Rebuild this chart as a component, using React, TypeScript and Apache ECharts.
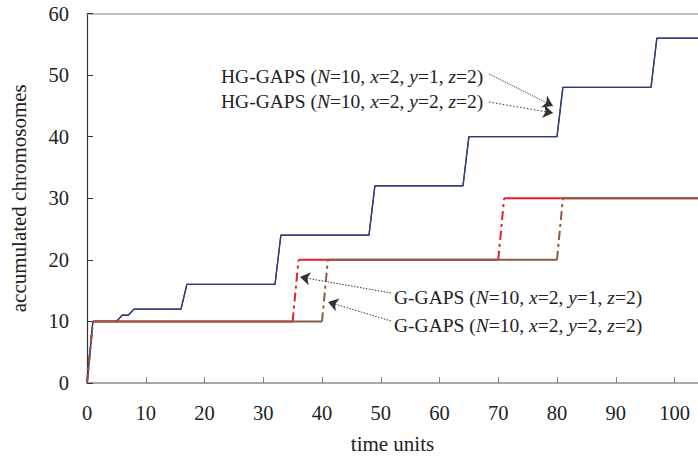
import React, { useEffect, useRef } from "react";
import * as echarts from "echarts";

// HG-GAPS (N=10, x=2, y=1/2, z=2) — both curves coincide
const hgTimes = [0, 1, 5, 6, 7, 8, 16, 17, 32, 33, 48, 49, 64, 65, 80, 81, 96, 97, 104];
const hgValues = [0, 10, 10, 11, 11, 12, 12, 16, 16, 24, 24, 32, 32, 40, 40, 48, 48, 56, 56];

// G-GAPS (N=10, x=2, y=1, z=2)
const g1Times = [0, 1, 35, 36, 70, 71, 104];
const g1Values = [0, 10, 10, 20, 20, 30, 30];

// G-GAPS (N=10, x=2, y=2, z=2)
const g2Times = [0, 1, 40, 41, 80, 81, 104];
const g2Values = [0, 10, 10, 20, 20, 30, 30];

const yTicks = [0, 10, 20, 30, 40, 50, 60];
const xTicks = [0, 10, 20, 30, 40, 50, 60, 70, 80, 90, 100];

const FONT = "'Liberation Serif', 'Times New Roman', serif";
const ANN = 19.5;

function pairs(t: number[], v: number[]) {
  return t.map((x, i) => [x, v[i]]);
}

// split a step curve into flat (solid) and rising (dash-dot) pieces
function split(t: number[], v: number[]) {
  const solid: any[] = [];
  const dashed: any[] = [];
  for (let i = 0; i < t.length - 1; i++) {
    const target = v[i] === v[i + 1] ? solid : dashed;
    if (target.length) target.push([(t[i] + t[i - 1 >= 0 ? i - 1 : i]) / 2, "-"]);
    target.push([t[i], v[i]], [t[i + 1], v[i + 1]]);
  }
  return { solid, dashed };
}

export default function App() {
  const ref = useRef<HTMLDivElement>(null);
  useEffect(() => {
    if (!ref.current) return;
    const chart = echarts.init(ref.current, null, { renderer: "svg" });
    const g1 = split(g1Times, g1Values);
    const g2 = split(g2Times, g2Values);
    const red = "#e3212b";
    const brown = "#8e5843";
    const navy = "#2f3b7a";
    const dash = [9, 4, 3, 4];
    const arrowLine = (a: number[], b: number[], type: any) => [
      { x: a[0], y: a[1], lineStyle: { type, color: "#333", width: 1 } },
      { x: b[0], y: b[1] },
    ];
    const rich = { i: { fontStyle: "italic", fontFamily: FONT, fontSize: ANN, fill: "#222" } };
    const label = (x: number, y: number, text: string) => ({
      type: "text",
      x,
      y,
      style: {
        text,
        fontFamily: FONT,
        fontSize: ANN,
        fill: "#222",
        verticalAlign: "middle",
        rich,
      },
      silent: true,
    });
    chart.setOption({
      animation: false,
      grid: { left: 85.5, top: 13.5, right: 0, bottom: 78, containLabel: false },
      xAxis: [
        {
          type: "value",
          min: 0,
          max: 104,
          interval: 10,
          name: "time units",
          nameLocation: "middle",
          nameGap: 50,
          nameTextStyle: { fontFamily: FONT, fontSize: 21, color: "#222" },
          axisLine: { show: true, lineStyle: { color: "#888", width: 1.5 } },
          axisTick: { show: true, inside: true, length: 6, lineStyle: { color: "#888" } },
          axisLabel: {
            fontFamily: FONT,
            fontSize: 20.5,
            color: "#222",
            margin: 19,
            showMaxLabel: false,
            formatter: (v: number) => (xTicks.includes(v) ? String(v) : ""),
          },
          splitLine: { show: false },
        },
        {
          type: "value",
          position: "top",
          min: 0,
          max: 104,
          axisLine: { show: true, onZero: false, lineStyle: { color: "#aaa", width: 1.5 } },
          axisTick: { show: false },
          axisLabel: { show: false },
          splitLine: { show: false },
        },
      ],
      yAxis: {
        type: "value",
        min: 0,
        max: 60,
        interval: 10,
        name: "accumulated chromosomes",
        nameLocation: "middle",
        nameGap: 58,
        nameTextStyle: { fontFamily: FONT, fontSize: 21, color: "#222" },
        axisLine: { show: true, lineStyle: { color: "#333", width: 1.2 } },
        axisTick: { show: true, inside: true, length: 6, lineStyle: { color: "#333" } },
        axisLabel: {
          fontFamily: FONT,
          fontSize: 20.5,
          color: "#222",
          margin: 18,
          formatter: (v: number) => (yTicks.includes(v) ? String(v) : ""),
        },
        splitLine: { show: false },
      },
      series: [
        {
          name: "HG-GAPS y=2",
          type: "line",
          data: pairs(hgTimes, hgValues),
          symbol: "none",
          lineStyle: { color: navy, width: 1.3 },
          markLine: {
            silent: true,
            symbol: ["none", "arrow"],
            symbolSize: 10,
            label: { show: false },
            data: [
              arrowLine([489, 74], [553, 106], "dotted"),
              arrowLine([489, 102], [553, 113], [1.5, 2]),
              arrowLine([391, 293], [300, 277], [1.5, 1.5]),
              arrowLine([391, 321], [328, 302], [1.5, 1.5]),
            ],
          },
        },
        {
          name: "HG-GAPS y=1",
          type: "line",
          data: pairs(hgTimes, hgValues),
          symbol: "none",
          lineStyle: { color: navy, width: 1.3 },
        },
        {
          name: "G-GAPS y=1",
          type: "line",
          data: g1.solid,
          symbol: "none",
          connectNulls: false,
          lineStyle: { color: red, width: 2 },
        },
        {
          name: "G-GAPS y=1 rise",
          type: "line",
          data: g1.dashed,
          symbol: "none",
          connectNulls: false,
          lineStyle: { color: red, width: 2, type: dash },
        },
        {
          name: "G-GAPS y=2",
          type: "line",
          data: g2.solid,
          symbol: "none",
          connectNulls: false,
          lineStyle: { color: brown, width: 2 },
        },
        {
          name: "G-GAPS y=2 rise",
          type: "line",
          data: g2.dashed,
          symbol: "none",
          connectNulls: false,
          lineStyle: { color: brown, width: 2, type: dash },
        },
      ],
      graphic: [
        label(221, 76, "HG-GAPS ({i|N}=10, {i|x}=2, {i|y}=1, {i|z}=2)"),
        label(221, 101, "HG-GAPS ({i|N}=10, {i|x}=2, {i|y}=2, {i|z}=2)"),
        label(394, 297, "G-GAPS ({i|N}=10, {i|x}=2, {i|y}=1, {i|z}=2)"),
        label(394, 325, "G-GAPS ({i|N}=10, {i|x}=2, {i|y}=2, {i|z}=2)"),
      ],
    });
    return () => chart.dispose();
  }, []);
  return (
    <div
      ref={ref}
      style={{ position: "fixed", left: 0, top: 0, width: 698, height: 461, background: "#fff" }}
    />
  );
}
